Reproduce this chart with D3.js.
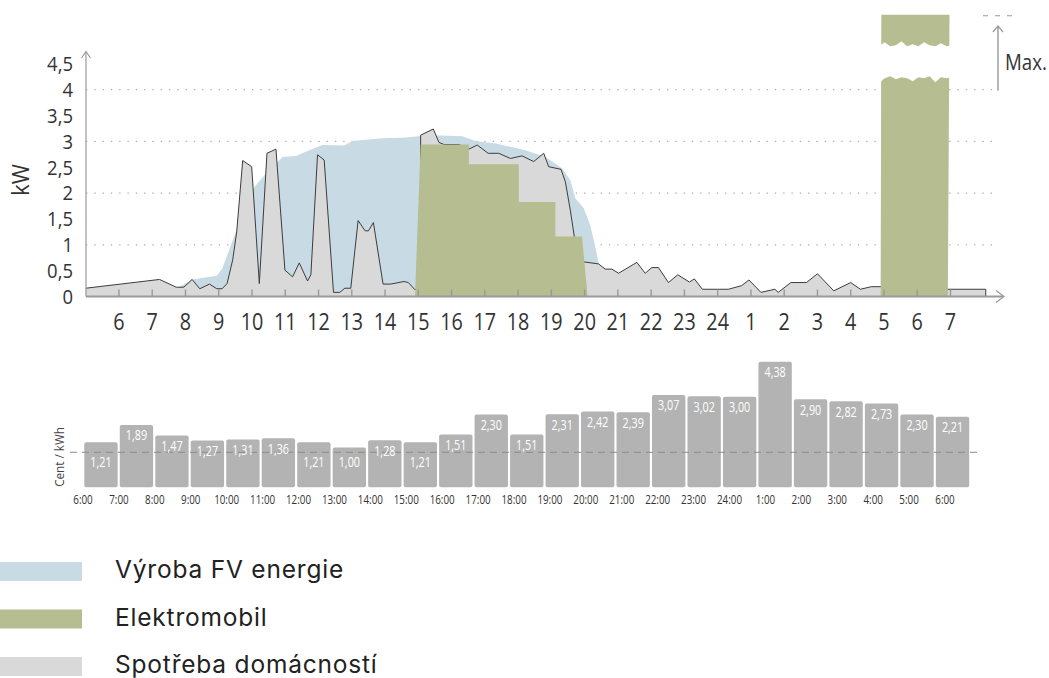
<!DOCTYPE html>
<html><head><meta charset="utf-8">
<script src="https://cdn.jsdelivr.net/npm/d3@7"></script>
<style>
body{margin:0;background:#fff;}
svg{display:block;}
.cond{font-family:"Open Sans","Noto Sans",sans-serif;}
.leg{font-family:Inter,"Noto Sans",sans-serif;}
</style></head><body>
<svg id="c" width="1049" height="678"></svg>
<script>
// ---------- DATA ----------
const hourTicks = [6,7,8,9,10,11,12,13,14,15,16,17,18,19,20,21,22,23,24,25,26,27,28,29,30,31];
const hourLabels = ["6","7","8","9","10","11","12","13","14","15","16","17","18","19","20","21","22","23","24","1","2","3","4","5","6","7"];
const yTicks = [0,0.5,1,1.5,2,2.5,3,3.5,4,4.5];
const yTickLabels = ["0","0,5","1","1,5","2","2,5","3","3,5","4","4,5"];
const gridValues = [1,2,3,4];

// Výroba FV energie (kW)
const pvHours  = [7.5,7.8,8.2,8.94,9.1,9.42,9.72,10.07,10.42,10.92,11.32,11.72,12.12,12.77,13.02,13.92,14.52,15.02,15.42,16.32,16.72,17.32,18.22,18.82,19.32,19.57,19.72,19.97,20.17,20.32,20.42,20.5];
const pvValues = [0,0.18,0.33,0.40,0.53,1.09,1.61,2.12,2.38,2.70,2.72,2.83,2.93,2.92,3.01,3.06,3.07,3.10,3.12,3.10,3.01,2.96,2.83,2.70,2.48,2.25,1.90,1.71,1.38,0.96,0.64,0];

// Spotřeba domácností (kW)
const homeHours  = [5.0,7.22,7.72,7.95,8.2,8.43,8.72,8.94,9.1,9.25,9.42,9.54,9.72,9.99,10.22,10.45,10.72,10.99,11.22,11.42,11.67,11.77,11.97,12.17,12.45,12.64,12.79,12.97,13.19,13.4,13.5,13.65,13.94,14.17,14.57,14.7,14.9,15.06,15.07,15.45,15.62,15.77,16.22,16.52,16.77,17.1,17.42,17.77,18.12,18.47,18.77,18.92,19.29,19.42,19.57,19.69,19.97,20.42,20.62,20.82,21.02,21.57,21.82,22.02,22.22,22.52,22.8,23.15,23.3,23.54,24.32,24.72,24.94,25.3,25.72,25.82,26.2,26.67,27.0,27.49,28.0,28.29,28.62,28.92,30.9,32.06,32.06];
const homeValues = [0.16,0.33,0.18,0.18,0.33,0.15,0.24,0.15,0.15,0.25,0.71,1.25,2.63,2.51,0.25,2.77,2.85,0.51,0.38,0.65,0.30,0.42,2.74,2.64,0.08,0.08,0.16,0.16,1.47,1.27,1.27,1.43,0.24,0.24,0.29,0.27,0.13,0.2,3.12,3.24,2.98,2.94,2.94,2.85,2.93,2.77,2.77,2.67,2.72,2.61,2.77,2.51,2.46,2.22,1.67,1.16,0.67,0.63,0.53,0.53,0.45,0.66,0.45,0.56,0.56,0.27,0.42,0.28,0.34,0.14,0.14,0.21,0.32,0.08,0.14,0.08,0.27,0.27,0.44,0.11,0.27,0.14,0.19,0.19,0.14,0.14,0];

// Elektromobil (kW) – null separates the two charging sessions
const evHours  = [14.9,15.07,16.52,16.52,18.02,18.02,19.12,19.12,19.92,20.09,null,28.9,28.92,30.97,30.92];
const evValues = [0,2.94,2.94,2.56,2.56,1.83,1.83,1.16,1.16,0,null,0,5.45,5.45,0];
const evBreakLow = 4.2, evBreakHigh = 4.9, maxValue = 5.43;

// Cena (Cent / kWh)
const priceLabels = ["6:00","7:00","8:00","9:00","10:00","11:00","12:00","13:00","14:00","15:00","16:00","17:00","18:00","19:00","20:00","21:00","22:00","23:00","24:00","1:00","2:00","3:00","4:00","5:00","6:00"];
const priceValues = [1.21,1.89,1.47,1.27,1.31,1.36,1.21,1.00,1.28,1.21,1.51,2.30,1.51,2.31,2.42,2.39,3.07,3.02,3.00,4.38,2.90,2.82,2.73,2.30,2.21];
const priceRef = 0.81;

const legendNames  = ["Výroba FV energie","Elektromobil","Spotřeba domácností"];
const legendColors = ["#c8dae4","#b5bd91","#d9d9d9"];

// ---------- DRAW ----------
const svg = d3.select("#c");
const cPV = "#c8dae4", cEV = "#b5bd91", cHome = "#d9d9d9", axisC = "#9a9a9a", txt = "#333";

// condensed text helper (horizontal squeeze)
function ctext(sel, px, py, sx, rot) {
  return sel.attr("class","cond")
    .attr("transform", (d,i) => {
      const X = typeof px === "function" ? px(d,i) : px;
      const Y = typeof py === "function" ? py(d,i) : py;
      return `translate(${X},${Y})` + (rot ? ` rotate(${rot})` : "") + ` scale(${sx},1)`;
    });
}

const x = d3.scaleLinear().domain([5,31]).range([85.7,950.5]);
const y = d3.scaleLinear().domain([0,4.5]).range([296.5,63.85]);

// gridlines
svg.append("g").selectAll("line").data(gridValues).join("line")
  .attr("x1", 86).attr("x2", 998).attr("y1", d=>y(d)).attr("y2", d=>y(d))
  .attr("stroke", "#aaa").attr("stroke-width", 1.3).attr("stroke-dasharray", "1.3,7");

const pv = pvHours.map((h,i)=>({h, v: pvValues[i]}));
const home = homeHours.map((h,i)=>({h, v: homeValues[i]}));
const ev = evHours.map((h,i)=>({h, v: evValues[i]}));

const area = d3.area().x(d=>x(d.h)).y0(y(0)).y1(d=>y(d.v)).defined(d=>d.v!=null);
const line = d3.line().x(d=>x(d.h)).y(d=>y(d.v));

svg.append("path").datum(pv).attr("d", area).attr("fill", cPV);
svg.append("path").datum(home).attr("d", area).attr("fill", cHome);
svg.append("path").datum(home).attr("d", line).attr("fill", "none").attr("stroke", "#3c3c3c").attr("stroke-width", 1);
svg.append("path").datum(ev).attr("d", area).attr("fill", cEV);

// torn break on the second EV bar
(function(){
  const x0 = x(28.85), x1 = x(31.05);
  const upJag = [0,-4,0,-1,-5,0,-2,0,-4,-1,0,-3,0,-1];
  const loJag = [6,1,-1,2,0,1,4,0,1,-1,5,0,1,0];
  const n = upJag.length;
  const pts = [];
  for (let i=0;i<n;i++) pts.push([x0+(x1-x0)*i/(n-1), y(evBreakHigh)+3+upJag[i]]);
  for (let i=n-1;i>=0;i--) pts.push([x0+(x1-x0)*i/(n-1), y(evBreakLow)-2+loJag[i]]);
  svg.append("polygon").attr("points", pts.map(p=>p.join(",")).join(" ")).attr("fill", "#fff");
})();

// x ticks
svg.append("g").selectAll("line").data(hourTicks).join("line")
  .attr("x1", d=>x(d)).attr("x2", d=>x(d)).attr("y1", y(0)-7).attr("y2", y(0))
  .attr("stroke", "#999").attr("stroke-width", 1.4);

// axes
svg.append("line").attr("x1", 86).attr("x2", 1003).attr("y1", y(0)).attr("y2", y(0))
  .attr("stroke", axisC).attr("stroke-width", 2.2);
svg.append("polyline").attr("points", `996,${y(0)-6} 1004,${y(0)} 996,${y(0)+6}`)
  .attr("fill","none").attr("stroke", axisC).attr("stroke-width", 1.2);
svg.append("line").attr("x1", 86).attr("x2", 86).attr("y1", y(0)).attr("y2", 52)
  .attr("stroke", axisC).attr("stroke-width", 1.2);
svg.append("polyline").attr("points", "81.5,58 86,51.5 90.5,58")
  .attr("fill","none").attr("stroke", axisC).attr("stroke-width", 1.2);

// y labels
ctext(svg.append("g").selectAll("text").data(yTicks).join("text"), 73, d=>y(d), 0.9)
  .attr("dy","0.36em").attr("text-anchor","end").attr("font-size", 20.5).attr("fill", txt)
  .text((d,i)=>yTickLabels[i]);
ctext(svg.append("text"), 29, 180, 0.95, -90)
  .attr("text-anchor","middle").attr("font-size", 23).attr("fill", txt).text("kW");

// x labels
ctext(svg.append("g").selectAll("text").data(hourTicks).join("text"), d=>x(d), 322, 0.86)
  .attr("dy","0.36em").attr("text-anchor","middle").attr("font-size", 23).attr("fill", txt)
  .text((d,i)=>hourLabels[i]);

// Max annotation
svg.append("line").attr("x1", 983).attr("x2", 1019).attr("y1", y(maxValue)).attr("y2", y(maxValue))
  .attr("stroke", "#999").attr("stroke-width", 1.2).attr("stroke-dasharray","5,7");
svg.append("line").attr("x1", 998).attr("x2", 998).attr("y1", y(4)+1).attr("y2", 26)
  .attr("stroke", "#999").attr("stroke-width", 1.4);
svg.append("polyline").attr("points", "993,32 998,26 1003,32")
  .attr("fill","none").attr("stroke", "#999").attr("stroke-width", 1.2);
ctext(svg.append("text"), 1005, 62, 0.85)
  .attr("dy","0.36em").attr("font-size", 22).attr("fill", txt).text("Max.");

// ---------- price bars ----------
const band = d3.scaleBand().domain(d3.range(priceValues.length)).range([84.3,969.2]).paddingInner(0.06);
const yP = d3.scaleLinear().domain([-0.57,4.38]).range([487.3,361.7]);
const lblX = d3.scalePoint().domain(d3.range(priceLabels.length)).range([83,945]);

svg.append("g").selectAll("rect").data(priceValues).join("rect")
  .attr("x",(d,i)=>band(i)).attr("width", band.bandwidth())
  .attr("y", d=>yP(d)).attr("height", d=>yP(-0.57)-yP(d))
  .attr("rx", 2).attr("fill", "#b3b3b3");

svg.append("line").attr("x1", 70).attr("x2", 979).attr("y1", yP(priceRef)).attr("y2", yP(priceRef))
  .attr("stroke", "#8a8a8a").attr("stroke-width", 1).attr("stroke-dasharray","7,5");

ctext(svg.append("g").selectAll("text").data(priceValues).join("text"),
      (d,i)=>band(i)+band.bandwidth()/2, d=> d<=1.21 ? yP(priceRef)+9.5 : yP(d)+10, 0.72)
  .attr("dy","0.36em").attr("text-anchor","middle").attr("font-size", 15).attr("fill", "#fff")
  .text(d=>d.toFixed(2).replace(".", ","));

ctext(svg.append("g").selectAll("text").data(priceLabels).join("text"), (d,i)=>lblX(i), 500, 0.82)
  .attr("dy","0.36em").attr("text-anchor","middle").attr("font-size", 12).attr("fill", txt).text(d=>d);

ctext(svg.append("text"), 64, 457, 0.9, -90)
  .attr("text-anchor","middle").attr("font-size", 13).attr("fill", "#444").text("Cent / kWh");

// ---------- legend ----------
const lg = svg.append("g").selectAll("g").data(legendNames).join("g")
  .attr("transform",(d,i)=>`translate(0,${562+i*47.5})`);
lg.append("rect").attr("x",0).attr("y",0).attr("width",82).attr("height",19)
  .attr("fill",(d,i)=>legendColors[i]);
lg.append("text").attr("class","leg").attr("x",115).attr("y",16)
  .attr("font-size",24.5).attr("letter-spacing","0.8px").attr("fill","#222").text(d=>d);
</script>
</body></html>
